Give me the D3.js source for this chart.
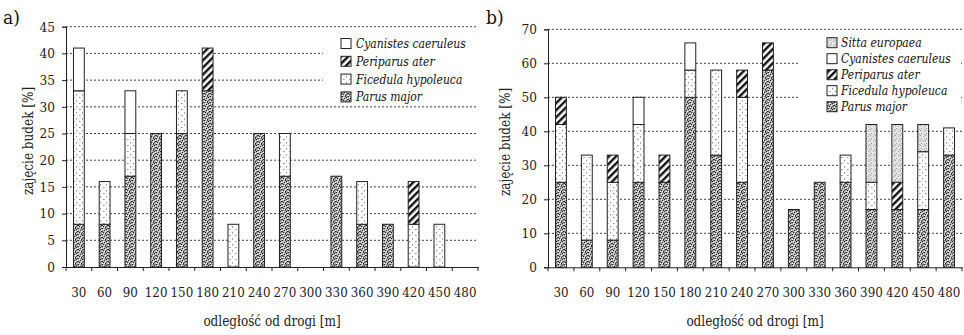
<!DOCTYPE html>
<html>
<head>
<meta charset="utf-8">
<script src="https://cdn.jsdelivr.net/npm/d3@7"></script>
<style>
  body { margin: 0; background: #fff; }
  svg { display: block; }
  .tick text { fill: #222; }
</style>
</head>
<body>
<svg id="chart" width="964" height="335"></svg>
<script>
// distance classes (x axis)
const distances = [30, 60, 90, 120, 150, 180, 210, 240, 270, 300, 330, 360, 390, 420, 450, 480];

// panel a) occupancy [%]
const aParus      = [8, 8, 17, 25, 25, 33, 0, 25, 17, 0, 17, 8, 8, 0, 0, 0];
const aFicedula   = [25, 8, 8, 0, 8, 0, 8, 0, 8, 0, 0, 8, 0, 8, 8, 0];
const aPeriparus  = [0, 0, 0, 0, 0, 8, 0, 0, 0, 0, 0, 0, 0, 8, 0, 0];
const aCyanistes  = [8, 0, 8, 0, 0, 0, 0, 0, 0, 0, 0, 0, 0, 0, 0, 0];

// panel b) occupancy [%]
const bParus      = [25, 8, 8, 25, 25, 50, 33, 25, 58, 17, 25, 25, 17, 17, 17, 33];
const bFicedula   = [17, 25, 17, 17, 0, 8, 25, 25, 0, 0, 0, 8, 8, 0, 17, 8];
const bPeriparus  = [8, 0, 8, 0, 8, 0, 0, 8, 8, 0, 0, 0, 0, 8, 0, 0];
const bCyanistes  = [0, 0, 0, 8, 0, 8, 0, 0, 0, 0, 0, 0, 0, 0, 0, 0];
const bSitta      = [0, 0, 0, 0, 0, 0, 0, 0, 0, 0, 0, 0, 17, 17, 8, 0];

const aTicks = [0, 5, 10, 15, 20, 25, 30, 35, 40, 45];
const bTicks = [0, 10, 20, 30, 40, 50, 60, 70];

const FONT = "DejaVu Serif, serif";

// DejaVu Serif is wider than the Times face of the original, squeeze it a bit
function condense(sel, k) {
  sel.each(function () {
    const w = this.getComputedTextLength();
    d3.select(this).attr("textLength", w * k).attr("lengthAdjust", "spacingAndGlyphs");
  });
}

const svg = d3.select("#chart");
const defs = svg.append("defs");

// pattern helper: tile with a background and scattered 1px dots
function dotPattern(id, size, bg, dots) {
  const p = defs.append("pattern").attr("id", id)
    .attr("patternUnits", "userSpaceOnUse").attr("width", size).attr("height", size);
  p.append("rect").attr("width", size).attr("height", size).attr("fill", bg);
  dots.forEach(([x, y, c]) =>
    p.append("rect").attr("x", x).attr("y", y).attr("width", 1).attr("height", 1).attr("fill", c));
}

// Parus major: dense dark stipple
dotPattern("p-parus", 6, "#b0b0b0", [
  [0, 0, "#222"], [3, 0, "#444"], [1, 1, "#fff"], [4, 1, "#222"], [5, 2, "#fff"],
  [2, 2, "#333"], [0, 3, "#444"], [3, 3, "#fff"], [5, 3, "#222"], [1, 4, "#222"],
  [4, 4, "#555"], [2, 5, "#fff"], [0, 5, "#fff"], [3, 5, "#222"], [5, 0, "#666"],
]);
// Ficedula hypoleuca: sparse grey dots on white
dotPattern("p-fic", 6, "#fff", [
  [1, 1, "#999"], [2, 1, "#bbb"], [4, 4, "#999"], [4, 5, "#bbb"],
]);
// Sitta europaea: light fine stipple
dotPattern("p-sitta", 5, "#e2e2e2", [
  [0, 0, "#999"], [3, 1, "#aaa"], [1, 3, "#999"], [4, 4, "#aaa"], [2, 2, "#fff"],
]);

const periPat = defs.append("pattern").attr("id", "p-peri")
  .attr("patternUnits", "userSpaceOnUse").attr("width", 5).attr("height", 5)
  .attr("patternTransform", "rotate(45)");
periPat.append("rect").attr("width", 5).attr("height", 5).attr("fill", "#fff");
periPat.append("rect").attr("x", 0).attr("width", 2.4).attr("height", 5).attr("fill", "#111");

const fills = {
  parus: "url(#p-parus)",
  fic: "url(#p-fic)",
  peri: "url(#p-peri)",
  cyan: "#fff",
  sitta: "url(#p-sitta)",
};

const names = {
  parus: "Parus major",
  fic: "Ficedula hypoleuca",
  peri: "Periparus ater",
  cyan: "Cyanistes caeruleus",
  sitta: "Sitta europaea",
};

function drawPanel(opt) {
  const g = svg.append("g");
  const rows = distances.map((d, i) => {
    const r = { dist: d };
    opt.keys.forEach((k) => (r[k] = opt.series[k][i]));
    return r;
  });
  const stacked = d3.stack().keys(opt.keys)(rows);

  const x = d3.scaleBand().domain(distances).range([opt.left, opt.right])
    .paddingInner(0.58).paddingOuter(0.29);
  const y = d3.scaleLinear().domain([0, opt.max]).range([opt.bottom, opt.top]);
  const step = x.step();

  // dotted grid
  g.append("g").selectAll("line").data(opt.ticks.filter((t) => t > 0)).join("line")
    .attr("x1", opt.left).attr("x2", opt.right)
    .attr("y1", (d) => y(d)).attr("y2", (d) => y(d))
    .attr("stroke", "#444").attr("stroke-width", 1).attr("stroke-dasharray", "2,2");

  // legend background covers grid
  const leg = g.append("g");
  leg.append("rect").attr("x", opt.legend.x0).attr("y", opt.legend.y0)
    .attr("width", opt.right - opt.legend.x0 - 1).attr("height", opt.legend.y1 - opt.legend.y0)
    .attr("fill", "#fff");
  const legKeys = opt.keys.slice().reverse();
  legKeys.forEach((k, i) => {
    const cy = opt.legend.first + i * opt.legend.gap;
    leg.append("rect").attr("x", opt.legend.sx).attr("y", cy - 5).attr("width", 10).attr("height", 10)
      .attr("fill", fills[k]).attr("stroke", "#222").attr("stroke-width", 1);
    leg.append("text").attr("x", opt.legend.tx).attr("y", cy + 4.5)
      .attr("font-family", FONT)
      .attr("font-size", 12).attr("font-style", "italic").attr("fill", "#111")
      .text(names[k])
      .call(condense, 0.9);
  });

  // stacked bars
  g.append("g").selectAll("g").data(stacked).join("g")
    .attr("fill", (s) => fills[s.key])
    .selectAll("rect").data((s) => s.filter((d) => d[1] - d[0] > 0)).join("rect")
    .attr("x", (d) => x(d.data.dist))
    .attr("width", x.bandwidth())
    .attr("y", (d) => y(d[1]))
    .attr("height", (d) => y(d[0]) - y(d[1]))
    .attr("stroke", "#222").attr("stroke-width", 1);

  // y axis
  const yAxis = g.append("g").attr("transform", `translate(${opt.left},0)`)
    .call(d3.axisLeft(y).tickValues(opt.ticks).tickSize(4).tickPadding(7))
    .attr("font-family", FONT).attr("font-size", 13.5);
  yAxis.select(".domain").attr("stroke", "#222");
  yAxis.selectAll(".tick line").attr("stroke", "#222");
  yAxis.selectAll(".tick text").call(condense, 0.9);

  // x axis: ticks at category boundaries, labels below
  const xAxis = g.append("g").attr("transform", `translate(0,${opt.bottom})`)
    .call(d3.axisBottom(x).tickSize(0).tickPadding(20))
    .attr("font-family", FONT).attr("font-size", 13.5);
  xAxis.select(".domain").attr("stroke", "#222");
  xAxis.selectAll(".tick text").call(condense, 0.88);
  xAxis.append("g").selectAll("line").data(d3.range(distances.length + 1)).join("line")
    .attr("x1", (i) => opt.left + i * step).attr("x2", (i) => opt.left + i * step)
    .attr("y1", 0).attr("y2", 4).attr("stroke", "#222");

  // titles
  g.append("text")
    .attr("x", (opt.left + opt.right) / 2).attr("y", 326)
    .attr("font-family", FONT)
    .attr("text-anchor", "middle").attr("font-size", 14).attr("fill", "#222")
    .text("odległość od drogi [m]")
    .call(condense, 0.86);
  g.append("text")
    .attr("transform", `translate(${opt.yTitleX},${opt.yTitleY}) rotate(-90)`)
    .attr("font-family", FONT)
    .attr("text-anchor", "middle").attr("font-size", 14).attr("fill", "#222")
    .text("zajęcie budek [%]")
    .call(condense, 0.86);
  g.append("text").attr("x", opt.labelX).attr("y", 24)
    .attr("font-family", FONT)
    .attr("font-size", 19).attr("fill", "#111").text(opt.label)
    .call(condense, 0.9);
}

drawPanel({
  label: "a)", labelX: 3,
  keys: ["parus", "fic", "peri", "cyan"],
  series: { parus: aParus, fic: aFicedula, peri: aPeriparus, cyan: aCyanistes },
  max: 45, ticks: aTicks,
  left: 66, right: 478, top: 26.7, bottom: 267,
  yTitleX: 33, yTitleY: 141,
  legend: { x0: 323, y0: 31, y1: 105, sx: 341, tx: 356, first: 43.5, gap: 17.8 },
});

drawPanel({
  label: "b)", labelX: 486,
  keys: ["parus", "fic", "peri", "cyan", "sitta"],
  series: { parus: bParus, fic: bFicedula, peri: bPeriparus, cyan: bCyanistes, sitta: bSitta },
  max: 70, ticks: bTicks,
  left: 548, right: 962, top: 29.3, bottom: 267.3,
  yTitleX: 510, yTitleY: 142,
  legend: { x0: 800, y0: 33, y1: 115, sx: 827, tx: 841, first: 42.7, gap: 16 },
});
</script>
</body>
</html>
